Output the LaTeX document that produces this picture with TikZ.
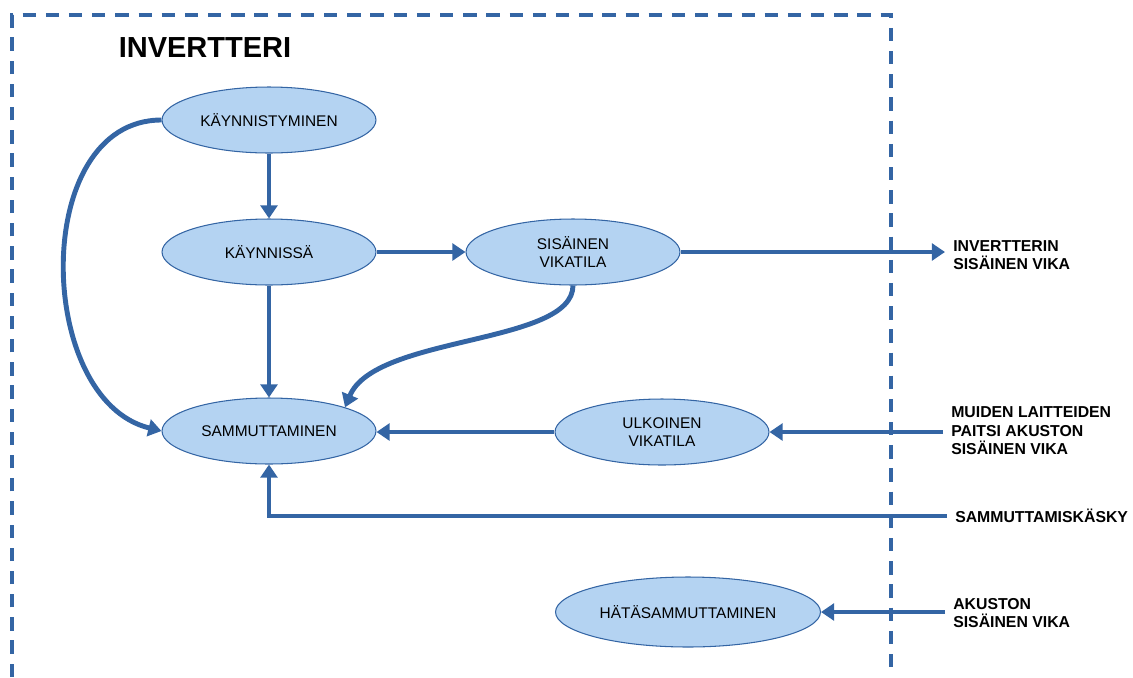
\documentclass[tikz,border=0pt]{standalone}
\usepackage{fontspec}
\setmainfont{Liberation Sans}
\usetikzlibrary{arrows.meta,shapes.geometric}
\definecolor{InvBlue}{HTML}{3465A4}
\definecolor{InvFill}{HTML}{B4D3F2}

\begin{document}
\begin{tikzpicture}[
    x=0.02cm, y=-0.02cm,
    state/.style={
      ellipse,
      draw=InvBlue,
      fill=InvFill,
      line width=0.6pt,
      minimum width=4.28cm,
      minimum height=1.32cm,
      inner sep=0pt,
      align=center,
      font=\fontsize{8.8}{10.5}\selectfont
    },
    signal/.style={anchor=west, align=left, inner ysep=0pt, inner xsep=4.5pt, font=\bfseries\fontsize{9}{10.5}\selectfont},
    arrow/.style={-{Triangle[length=7.5pt, width=9.6pt]}, line width=2.8pt, draw=InvBlue}
  ]
  \useasboundingbox (0,0) rectangle (1133,677);
  \draw[InvBlue, line width=2.1pt, dash pattern=on 7.6pt off 5.6pt] (12,677) -- (12,15) -- (891,15) -- (891,677);
  \node[font=\bfseries\fontsize{16.5}{19}\selectfont] (title) at (205,48) {INVERTTERI};

  \node[state] (start) at (269,120) {KÄYNNISTYMINEN};
  \node[state] (run) at (269,252) {KÄYNNISSÄ};
  \node[state] (fault) at (573,252) {SISÄINEN\\VIKATILA};
  \node[state] (stop) at (269,431) {SAMMUTTAMINEN};
  \node[state] (extfault) at (662,432) {ULKOINEN\\VIKATILA};
  \node[state, minimum width=5.3cm, minimum height=1.4cm] (emergency) at (688,612) {HÄTÄSAMMUTTAMINEN};

  \node[signal] (intsig) at (945,255) {INVERTTERIN\\SISÄINEN VIKA};
  \node[signal] (extsig) at (943,431) {MUIDEN LAITTEIDEN\\PAITSI AKUSTON\\SISÄINEN VIKA};
  \node[signal] (cmdsig) at (947,516) {SAMMUTTAMISKÄSKY};
  \node[signal] (battsig) at (945,613) {AKUSTON\\SISÄINEN VIKA};

  \draw[arrow] (start) -- (run);
  \draw[arrow] (run) -- (fault);
  \draw[arrow] (run) -- (stop);
  \draw[arrow] (fault.south) .. controls (573,345) and (375,335) .. (stop.north east);
  \draw[arrow] (start.west) .. controls (30,120) and (35,400) .. (stop.west);
  \draw[arrow] (fault) -- (fault -| intsig.west);
  \draw[arrow] (extfault -| extsig.west) -- (extfault);
  \draw[arrow] (extfault) -- (extfault -| stop.east);
  \draw[arrow] (cmdsig.west) -| (stop.south);
  \draw[arrow] (emergency -| battsig.west) -- (emergency);
\end{tikzpicture}
\end{document}
